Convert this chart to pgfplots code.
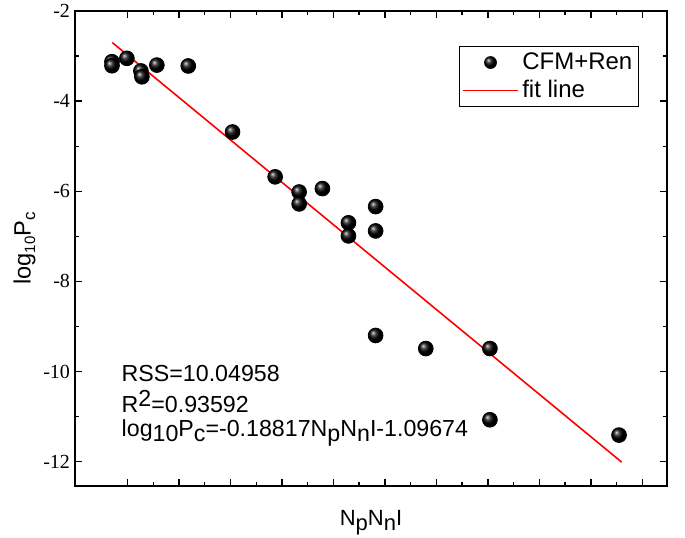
\documentclass[border=0pt]{standalone}
\usepackage{pgfplots}
\pgfplotsset{compat=1.18}
\usepackage{fontspec}
\setmainfont{Liberation Sans}
\newfontfamily\timesnum{Liberation Serif}
\newcommand\dn[1]{\raisebox{-0.35ex}{#1}}
\newcommand\up[1]{\raisebox{0.45ex}{#1}}
\newcommand\tl[1]{\mbox{\timesnum\fontsize{10}{11}\selectfont #1}}
\definecolor{fitred}{HTML}{FF0000}

\begin{document}
\begin{tikzpicture}
\begin{axis}[
  scale only axis,
  width=296pt, height=237.5pt,
  xmin=4.9, xmax=62.4, ymin=-12.54, ymax=-2,
  xtick={10,15,...,60}, xticklabels={},
  minor x tick num=1,
  ytick={-12,-10,...,-2},
  yticklabels={\tl{-12},\tl{-10},\tl{-8},\tl{-6},\tl{-4},\tl{-2}},
  minor y tick num=1,
  yticklabel style={font=\timesnum\fontsize{10}{11}\selectfont, xshift=1pt},
  tick align=inside,
  major tick length=3.6pt, minor tick length=1.9pt,
  axis line style={line width=0.9pt},
  every tick/.style={black, line width=0.7pt},
  xlabel={N\dn{p}N\dn{n}I},
  ylabel={log\dn{\fontsize{7.5}{8}\selectfont 10}P\dn{\fontsize{8.5}{9}\selectfont c}},
  xlabel style={font=\fontsize{11}{12}\selectfont, yshift=-2pt},
  ylabel style={font=\fontsize{11.8}{13}\selectfont, yshift=-3pt},
  legend style={draw=black, line width=0.5pt, fill=white,
    at={(0.649,0.926)}, anchor=north west,
    font=\fontsize{12}{13}\selectfont, inner xsep=1pt, inner ysep=1pt,
    row sep=0pt},
  legend cell align=left,
]
\coordinate (sw) at (rel axis cs:0,0);
\coordinate (ne) at (rel axis cs:1,1);
\addplot[only marks, mark=ball, mark size=3.7pt, ball color=black, forget plot]
coordinates {
(8.49,-3.125) (8.49,-3.214) (9.94,-3.05) (11.3,-3.33) (11.4,-3.46)
(12.85,-3.20) (15.9,-3.22) (20.2,-4.685) (24.34,-5.68)
(26.67,-6.016) (26.67,-6.28) (28.93,-5.94)
(31.46,-6.70) (31.46,-6.99) (34.1,-6.34) (34.1,-6.88)
(34.1,-9.20) (38.97,-9.49) (45.2,-9.49) (45.2,-11.07) (57.74,-11.41)
};
\addplot[fitred, line width=0.8pt, forget plot]
coordinates {(8.52,-2.700) (58.0,-12.011)};
\addlegendimage{legend image code/.code={%
  \path[draw=none, fill=none] (0pt,-3pt) rectangle (27.5pt,3pt);
  \shade[draw=none, ball color=black] (14pt,0pt) circle (3.2pt);}}
\addlegendentry{CFM+Ren}
\addlegendimage{legend image code/.code={%
  \draw[fitred, line width=0.8pt] (0pt,0pt) -- (27.5pt,0pt);}}
\addlegendentry{fit line}
\node[anchor=base west, inner sep=0pt, font=\fontsize{11.6}{13}\selectfont] at (axis cs:9.4,-10.225) {RSS=10.04958};
\node[anchor=base west, inner sep=0pt, font=\fontsize{11.6}{13}\selectfont] at (axis cs:9.4,-10.90) {R\up{2}=0.93592};
\node[anchor=base west, inner sep=0pt, font=\fontsize{11.6}{13}\selectfont] at (axis cs:9.4,-11.45) {log\dn{10}P\dn{c}=-0.18817N\dn{p}N\dn{n}I-1.09674};
\end{axis}
\pgfresetboundingbox
\useasboundingbox ([shift={(-37.5pt,-25.5pt)}]sw) rectangle ([shift={(9pt,5.5pt)}]ne);
\end{tikzpicture}
\end{document}
